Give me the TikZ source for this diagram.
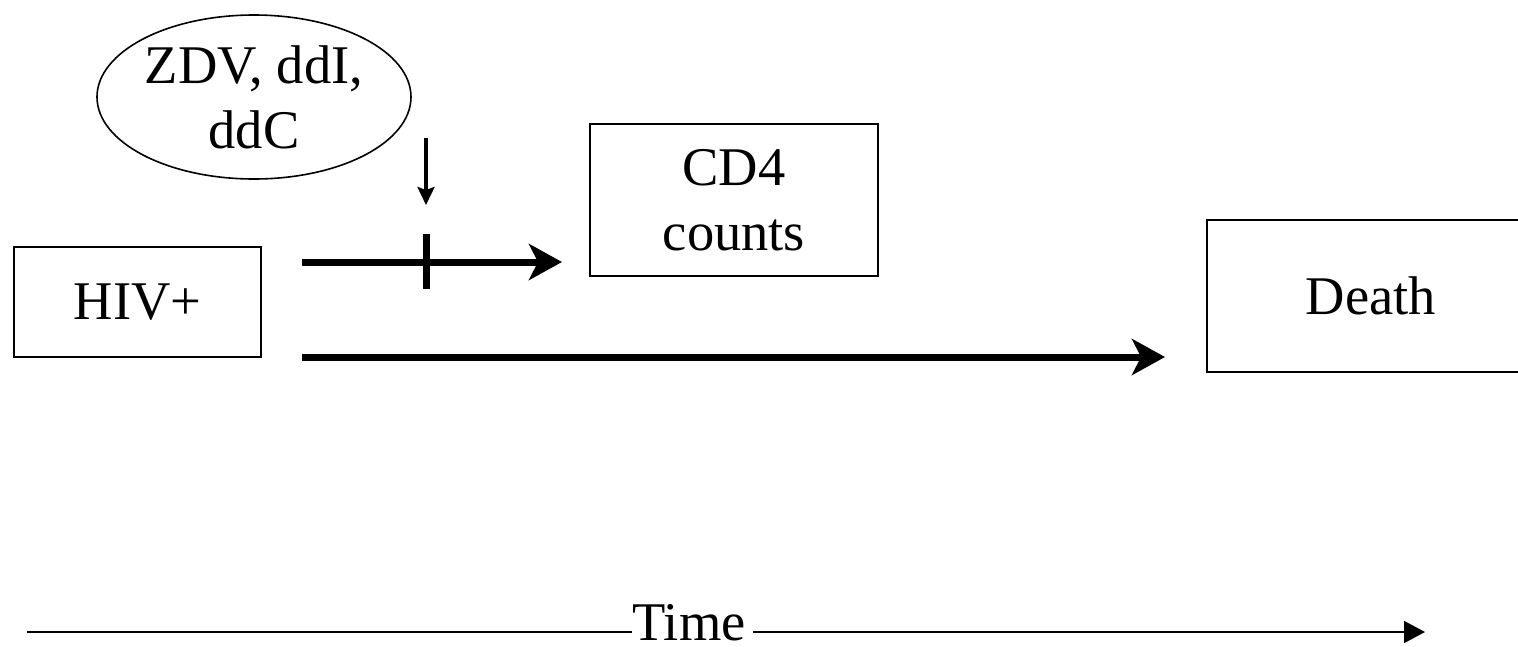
\documentclass[tikz,border=0pt]{standalone}
\usepackage{fontspec}
\setmainfont{Liberation Serif}
\usetikzlibrary{arrows.meta,shapes.geometric}
\begin{document}
\begin{tikzpicture}[x=1pt,y=-1pt,
  lbl/.style={font=\fontsize{54.5}{65}\selectfont, align=center},
  stagebox/.style={lbl, draw, line width=1.8pt, inner sep=0pt},
  drugs/.style={lbl, draw, ellipse, line width=1.6pt, inner sep=0pt,
    minimum width=314pt, minimum height=164pt},
  thickarrow/.style={line width=7pt,
    -{Stealth[length=33pt,width=36pt,inset=9pt]}},
  drugarrow/.style={line width=3.5pt,
    -{Stealth[length=18pt,width=17pt,inset=3pt]}},
  timeline/.style={line width=1.8pt}]
  \path[use as bounding box, clip] (0,0) rectangle (1518,646);

  % stages
  \node[stagebox, minimum width=247pt, minimum height=110pt] (hiv) at (137.5,302) {HIV+};
  \node[stagebox, minimum width=288pt, minimum height=152pt] (cd4) at (734,200) {CD4\\counts};
  \node[stagebox, minimum width=328pt, minimum height=152pt] (death) at (1371,296) {Death};

  % treatment
  \node[drugs] (drug) at (254,97) {ZDV, ddI,\\ddC};

  % transitions
  \coordinate (upS) at (302,262);
  \coordinate (upE) at (562,262);
  \coordinate (loS) at (302,357);
  \coordinate (loE) at (1165,357);
  \draw[thickarrow] (upS) -- (upE);
  \draw[thickarrow] (loS) -- (loE);

  % treatment blocks the first transition
  \coordinate (tickT) at (426,234);
  \coordinate (tickB) at (426,289);
  \draw[line width=7pt] (tickT) -- (tickB);
  \coordinate (dS) at (426,138);
  \coordinate (dE) at (426,205);
  \draw[drugarrow] (dS) -- (dE);

  % time axis
  \node[lbl, anchor=base, inner sep=0pt] (time) at (689,640) {Time};
  \coordinate (tS) at (27,632);
  \coordinate (tE) at (1425,632);
  \coordinate (tR) at (753,632);
  \draw[timeline] (tS) -- (time.west |- tS);
  \draw[timeline, -{Triangle[length=21pt,width=22pt]}] (tR) -- (tE);
\end{tikzpicture}
\end{document}
